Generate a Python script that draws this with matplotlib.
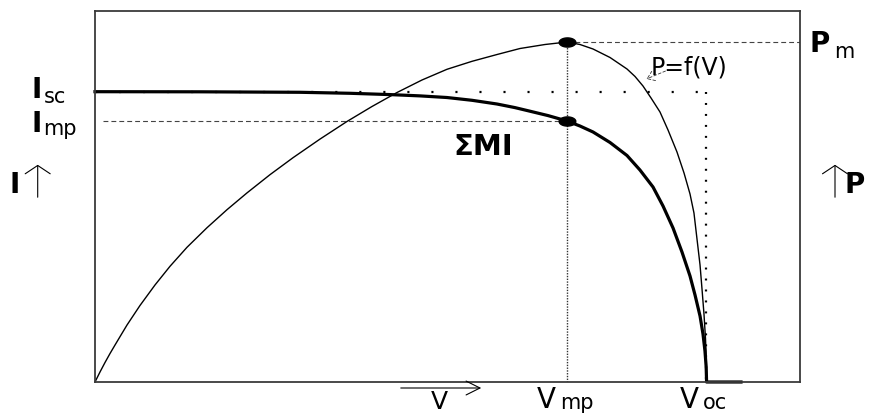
import matplotlib.pyplot as plt
import numpy as np

plt.rcParams['font.family'] = ['DejaVu Sans']
plt.rcParams['lines.scale_dashes'] = False

W, H = 878, 414

# values (V and I/P in % of the frame)
v_iv = [0, 14.89, 29.08, 36.17, 41.84, 46.10, 49.93, 53.48, 57.02, 59.57, 61.70, 64.26, 66.95,
        68.79, 70.64, 73.05, 75.46, 77.30, 79.15, 80.57, 81.99, 83.26, 84.40, 85.11, 85.82,
        86.24, 86.52, 86.69, 86.75, 91.63]
i_iv = [78.25, 78.22, 78.09, 77.82, 77.47, 77.12, 76.68, 75.93, 74.93, 73.96, 72.99, 71.81, 70.35,
        69.00, 67.39, 64.56, 61.05, 57.14, 52.56, 47.44, 41.51, 35.04, 28.57, 23.45, 17.79,
        12.94, 8.36, 4.04, 0, 0]

v_pv = [0, 0.71, 1.42, 2.13, 2.84, 3.69, 4.54, 6.38, 8.51, 10.64, 13.05, 15.89, 18.72, 21.56,
        24.82, 28.09, 31.91, 35.74, 39.29, 42.84, 46.38, 49.93, 53.48, 57.02, 60.28, 63.83, 66.95,
        68.79, 70.64, 73.05, 75.46, 76.60, 77.73, 78.87, 80.14, 81.28, 82.55, 83.55, 84.40,
        84.96, 85.39, 85.82, 86.10, 86.38, 86.60, 86.71, 86.75]
p_pv = [0, 2.70, 5.26, 7.68, 9.97, 12.67, 15.36, 20.62, 26.15, 31.19, 36.31, 41.59, 46.44, 50.97,
        55.88, 60.46, 65.47, 70.22, 74.26, 78.03, 81.40, 84.29, 86.44, 88.27, 89.89, 90.97, 91.64,
        90.97, 89.76, 87.47, 84.37, 82.35, 79.78, 76.55, 72.78, 67.92, 62.00, 56.33, 50.67,
        45.55, 38.54, 31.54, 25.07, 18.33, 11.59, 5.66, 0]

v_mp, v_oc = 66.95, 86.6
i_sc, i_mp, p_m = 78.2, 70.35, 91.64

fig = plt.figure(figsize=(W / 100, H / 100), dpi=100)
ax = fig.add_axes([95 / W, (H - 383) / H, 705 / W, 371 / H])
ax.set_xlim(0, 100)
ax.set_ylim(0, 100)
ax.set_xticks([])
ax.set_yticks([])
for s in ax.spines.values():
    s.set_color('#3a3a3a')
    s.set_linewidth(1.3)

# helper lines
ax.plot([0, v_oc], [i_sc, i_sc], color='black', lw=1.6, linestyle=(0, (1.5, 15.8)))
ax.plot([v_oc, v_oc], [i_sc, 0], color='black', lw=1.6, linestyle=(0, (1.4, 6.5)))
ax.plot([1.2, v_mp], [i_mp, i_mp], color='#444444', lw=0.8, linestyle=(0, (3.5, 2.2)))
ax.plot([v_mp, 100], [p_m, p_m], color='#444444', lw=0.8, linestyle=(0, (3.5, 2.2)))
ax.plot([v_mp, v_mp], [p_m, 0], color='#333333', lw=1.0, linestyle=(0, (1, 1)))

# curves
ax.plot(v_pv, p_pv, color='black', lw=1.0, clip_on=False)
ax.plot(v_iv, i_iv, color='black', lw=2.3, clip_on=False, solid_joinstyle='round')

t = np.linspace(0, 2 * np.pi, 40)
ell = list(zip(np.cos(t), 0.55 * np.sin(t)))
ax.plot([v_mp, v_mp], [p_m, i_mp], linestyle='none', marker=ell, ms=12, color='black')


def put(px, py, s, **kw):
    fig.text(px / W, 1 - py / H, s, **kw)


def arrow(x0, y0, x1, y1, **kw):
    fig.add_artist(plt.matplotlib.patches.FancyArrowPatch(
        (x0 / W, 1 - y0 / H), (x1 / W, 1 - y1 / H), transform=fig.transFigure, **kw))


big = dict(fontsize=20, va='baseline', ha='left')
sub = dict(fontsize=15, va='baseline', ha='left')

put(31, 98, 'I', fontweight='bold', **big)
put(44, 103, 'sc', **sub)
put(31, 132, 'I', fontweight='bold', **big)
put(43, 135, 'mp', **sub)
put(10, 193, 'I', fontweight='bold', **big)
arrow(37.7, 201, 37.7, 163, arrowstyle='->,head_length=0.3,head_width=0.45', mutation_scale=20, lw=0.8, color='black')

arrow(835, 201, 835, 163, arrowstyle='->,head_length=0.3,head_width=0.45', mutation_scale=20, lw=0.8, color='black')
put(845, 193, 'P', fontweight='bold', **big)

put(810, 52, 'P', fontweight='bold', **big)
put(834, 58, 'm', **sub)

put(651, 74, 'P=f(V)', fontsize=17, va='baseline', ha='left')
arrow(668, 71, 644, 81, arrowstyle='->,head_length=0.25,head_width=0.18', mutation_scale=20, lw=0.6,
      color='#333333', linestyle=(0, (2, 1.5)))

put(453, 155, 'ΣMI', fontweight='bold', fontsize=21, va='baseline', ha='left')

arrow(398, 389, 484, 389, arrowstyle='->,head_length=0.5,head_width=0.25', mutation_scale=20, lw=0.8, color='black')
put(431, 414, 'V', fontsize=18, va='bottom', ha='left')
put(537, 408, 'V', **big)
put(560, 409, 'mp', **sub)
put(680, 408, 'V', **big)
put(703, 409, 'oc', **sub)

fig.savefig('out.png', dpi=100)
